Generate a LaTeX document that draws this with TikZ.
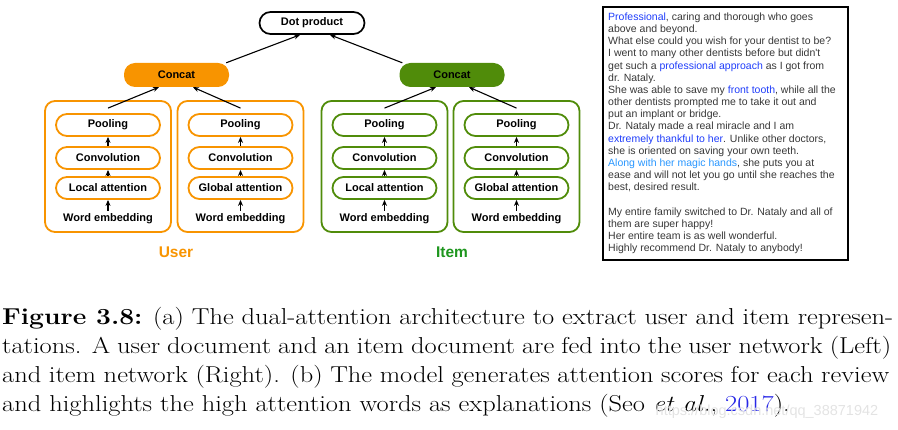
\documentclass[tikz,border=0pt]{standalone}
\usepackage{fontspec}
\newfontfamily\hv{Liberation Sans}
\usetikzlibrary{arrows.meta}
\definecolor{uorange}{RGB}{248,148,0}
\definecolor{igreen}{RGB}{80,140,10}
\definecolor{itemtxt}{RGB}{30,150,30}
\definecolor{revgray}{RGB}{55,55,55}
\definecolor{hlblue}{RGB}{30,60,250}
\definecolor{hllight}{RGB}{40,150,255}
\definecolor{citeblue}{RGB}{40,40,230}
\begin{document}
\begin{tikzpicture}[x=1pt,y=-1pt,
  outerbox/.style={draw, rounded corners=10pt, line width=1.8pt, minimum width=126pt, minimum height=131pt, inner sep=0pt},
  innerbox/.style={draw, rounded corners=11pt, line width=1.8pt, minimum width=104pt, minimum height=22pt, inner sep=0pt, font=\hv\bfseries\fontsize{11}{13}\selectfont},
  plainlab/.style={inner sep=0pt, font=\hv\bfseries\fontsize{11}{13}\selectfont},
  concatbox/.style={rounded corners=11pt, minimum width=105pt, minimum height=24pt, inner sep=0pt, font=\hv\bfseries\fontsize{11}{13}\selectfont},
  arr/.style={-{Stealth[length=6pt,width=5pt]}, line width=1.1pt},
  revline/.style={anchor=base west, inner sep=0pt, text=revgray, font=\hv\fontsize{10.5}{12}\selectfont},
  capline/.style={anchor=base west, inner sep=0pt, font=\fontsize{23}{29}\selectfont}
]
\useasboundingbox (0,0) rectangle (898,430);

% dot product
\node[innerbox, draw=black, line width=1.7pt, minimum width=105pt] (dot) at (312,23) {Dot product};

% concat nodes
\node[concatbox, fill=uorange] (uc) at (176.5,75) {Concat};
\node[concatbox, fill=igreen] (ic) at (452,75) {Concat};

\draw[arr] ([xshift=-3pt]uc.north east) -- ([xshift=-12pt]dot.south);
\draw[arr] ([xshift=3pt]ic.north west) -- ([xshift=18pt]dot.south);

% four columns
\foreach \n/\x/\att/\col in {ua/108/Local/uorange, ub/240.5/Global/uorange, ia/384.5/Local/igreen, ib/516.5/Global/igreen}{
  \node[outerbox, draw=\col] (\n-box) at (\x,166.5) {};
  \node[innerbox, draw=\col] (\n-pool) at (\x,125) {Pooling};
  \node[innerbox, draw=\col] (\n-conv) at (\x,158) {Convolution};
  \node[innerbox, draw=\col] (\n-att) at (\x,188) {\att{} attention};
  \node[plainlab] (\n-emb) at (\x,219) {Word embedding};
  \draw[arr] ([yshift=3pt]\n-emb.north) -- (\n-att.south);
  \draw[arr] (\n-att.north) -- (\n-conv.south);
  \draw[arr] (\n-conv.north) -- (\n-pool.south);
}

\draw[arr] ([yshift=-8pt]ua-box.north) -- ([xshift=-17.5pt]uc.south);
\draw[arr] ([yshift=-8pt]ub-box.north) -- ([xshift=16.5pt]uc.south);
\draw[arr] ([yshift=-8pt]ia-box.north) -- ([xshift=-16pt]ic.south);
\draw[arr] ([yshift=-8pt]ib-box.north) -- ([xshift=17pt]ic.south);

\node[inner sep=0pt, text=uorange, font=\hv\bfseries\fontsize{15.5}{18}\selectfont] (ulab) at (176,252) {User};
\node[inner sep=0pt, text=itemtxt, font=\hv\bfseries\fontsize{15.5}{18}\selectfont] (ilab) at (452,252) {Item};

% review box
\node[draw, line width=2.2pt, minimum width=245pt, minimum height=253pt, anchor=north west, inner sep=0pt] (rev) at (602,6) {};
\node[revline] (r1) at (608,20.5) {\textcolor{hlblue}{Professional}, caring and thorough who goes};
\node[revline] (r2) at (608,32.7) {above and beyond.};
\node[revline] (r3) at (608,44.8) {What else could you wish for your dentist to be?};
\node[revline] (r4) at (608,57.0) {I went to many other dentists before but didn't};
\node[revline] (r5) at (608,69.1) {get such a \textcolor{hlblue}{professional approach} as I got from};
\node[revline] (r6) at (608,81.3) {dr. Nataly.};
\node[revline] (r7) at (608,93.5) {She was able to save my \textcolor{hlblue}{front tooth}, while all the};
\node[revline] (r8) at (608,105.6) {other dentists prompted me to take it out and};
\node[revline] (r9) at (608,117.8) {put an implant or bridge.};
\node[revline] (r10) at (608,129.9) {Dr. Nataly made a real miracle and I am};
\node[revline] (r11) at (608,142.1) {\textcolor{hlblue}{extremely thankful to her}. Unlike other doctors,};
\node[revline] (r12) at (608,154.3) {she is oriented on saving your own teeth.};
\node[revline] (r13) at (608,166.4) {\textcolor{hllight}{Along with her magic hands}, she puts you at};
\node[revline] (r14) at (608,178.6) {ease and will not let you go until she reaches the};
\node[revline] (r15) at (608,190.7) {best, desired result.};
\node[revline] (r17) at (608,215.1) {My entire family switched to Dr. Nataly and all of};
\node[revline] (r18) at (608,227.2) {them are super happy!};
\node[revline] (r19) at (608,239.4) {Her entire team is as well wonderful.};
\node[revline] (r20) at (608,251.5) {Highly recommend Dr. Nataly to anybody!};

% caption
\node[capline] (c1) at (2,325) {\scalebox{1.15}[1]{\makebox[774.8pt][s]{\textbf{Figure 3.8:} (a) The dual-attention architecture to extract user and item represen-}}};
\node[capline] (c2) at (2,354) {\scalebox{1.15}[1]{\makebox[773pt][s]{tations. A user document and an item document are fed into the user network (Left)}}};
\node[capline] (c3) at (2,383) {\scalebox{1.15}[1]{\makebox[771.3pt][s]{and item network (Right). (b) The model generates attention scores for each review}}};
\node[capline] (c4) at (2,412) {\scalebox{1.15}[1]{and highlights the high attention words as explanations (Seo \textit{et al.}, \textcolor{citeblue}{2017}).}};

% watermark
\node[inner sep=0pt, text=gray!22, font=\hv\fontsize{14.5}{16}\selectfont] (wm) at (767,412) {https://blog.csdn.net/qq\_38871942};
\end{tikzpicture}
\end{document}
